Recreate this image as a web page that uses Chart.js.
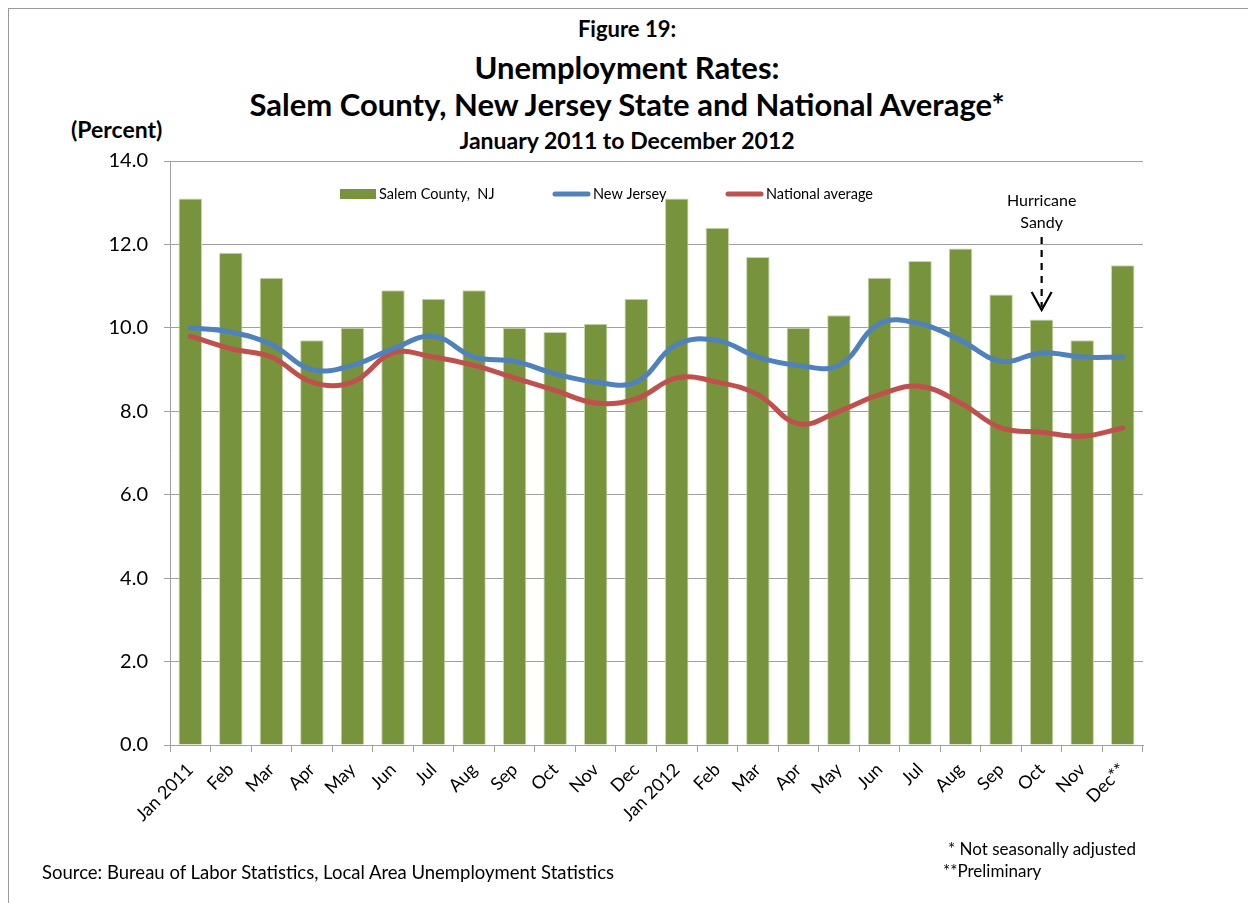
<!DOCTYPE html>
<html lang="en">
<head>
<meta charset="UTF-8">
<title>Unemployment Rates</title>
<script src="https://cdn.jsdelivr.net/npm/chart.js"></script>
<style>
  html, body { margin: 0; padding: 0; background: #fff; overflow: hidden; }
  body { width: 1248px; height: 903px; position: relative; font-family: Lato, "Open Sans", sans-serif; color: #000; }
  .frame { position: absolute; left: 8px; top: 8px; width: 1300px; height: 1000px; border: 1px solid #9a9a9a; }
  .t { position: absolute; left: 0; width: 1254px; text-align: center; font-weight: bold; white-space: nowrap; line-height: 1.2; }
  #chart-box { position: absolute; left: 0; top: 0; width: 1248px; height: 903px; }
  .note { position: absolute; font-size: 16px; white-space: nowrap; line-height: 1.2; }
</style>
</head>
<body>
<div class="frame"></div>
<div class="t" style="top:16px;font-size:22px;">Figure 19:</div>
<div class="t" style="top:49px;font-size:31px;">Unemployment Rates:</div>
<div class="t" style="top:86px;font-size:31px;">Salem County, New Jersey State and National Average*</div>
<div class="t" style="top:127px;font-size:23px;">January 2011 to December 2012</div>
<div class="note" style="left:71px;top:116px;font-size:23px;font-weight:bold;">(Percent)</div>

<div id="chart-box"><canvas id="chart"></canvas></div>

<div class="note" style="left:42px;top:861px;font-size:18.5px;">Source: Bureau of Labor Statistics, Local Area Unemployment Statistics</div>
<div class="note" style="left:948px;top:839px;font-size:17px;">* Not seasonally adjusted</div>
<div class="note" style="left:943px;top:861px;font-size:17px;">**Preliminary</div>

<script>
// data
var months = ['Jan 2011', 'Feb', 'Mar', 'Apr', 'May', 'Jun', 'Jul', 'Aug', 'Sep', 'Oct', 'Nov', 'Dec',
              'Jan 2012', 'Feb', 'Mar', 'Apr', 'May', 'Jun', 'Jul', 'Aug', 'Sep', 'Oct', 'Nov', 'Dec**'];
var salem = [13.1, 11.8, 11.2, 9.7, 10.0, 10.9, 10.7, 10.9, 10.0, 9.9, 10.1, 10.7,
             13.1, 12.4, 11.7, 10.0, 10.3, 11.2, 11.6, 11.9, 10.8, 10.2, 9.7, 11.5];
var newJersey = [10.0, 9.9, 9.6, 9.0, 9.1, 9.5, 9.8, 9.3, 9.2, 8.9, 8.7, 8.7,
                 9.6, 9.7, 9.3, 9.1, 9.1, 10.1, 10.1, 9.7, 9.2, 9.4, 9.3, 9.3];
var national = [9.8, 9.5, 9.3, 8.7, 8.7, 9.4, 9.3, 9.1, 8.8, 8.5, 8.2, 8.3,
                8.8, 8.7, 8.4, 7.7, 8.0, 8.4, 8.6, 8.2, 7.6, 7.5, 7.4, 7.6];
var seriesNames = ['Salem County,  NJ', 'New Jersey', 'National average'];
var sandyIndex = 21;

var GREEN = '#77933C', BLUE = '#4F81BD', RED = '#C0504D';

// legend drawn inside the plot area, plus the Hurricane Sandy arrow
var extras = {
    id: 'extras',
    afterDraw: function (chart) {
        var ctx = chart.ctx, a = chart.chartArea;
        ctx.save();
        ctx.font = '14.5px Lato, "Open Sans", sans-serif';
        ctx.fillStyle = '#000';
        ctx.textBaseline = 'middle';
        var ly = a.top + 33;
        // salem
        ctx.fillStyle = GREEN;
        ctx.fillRect(a.left + 170, ly - 5, 36, 10);
        ctx.fillStyle = '#000';
        ctx.fillText(seriesNames[0], a.left + 209, ly);
        // lines
        var items = [[383, BLUE, seriesNames[1]], [556, RED, seriesNames[2]]];
        items.forEach(function (it) {
            ctx.strokeStyle = it[1];
            ctx.lineWidth = 5;
            ctx.lineCap = 'round';
            ctx.beginPath();
            ctx.moveTo(a.left + it[0] + 2, ly);
            ctx.lineTo(a.left + it[0] + 35, ly);
            ctx.stroke();
            ctx.fillText(it[2], a.left + it[0] + 40, ly);
        });

        // Hurricane Sandy
        var x = chart.scales.x.getPixelForValue(sandyIndex);
        ctx.font = '16px Lato, "Open Sans", sans-serif';
        ctx.textAlign = 'center';
        ctx.fillText('Hurricane', x, a.top + 40);
        ctx.fillText('Sandy', x, a.top + 62);
        ctx.strokeStyle = '#000';
        ctx.lineWidth = 2.2;
        ctx.lineCap = 'butt';
        ctx.setLineDash([7, 6]);
        ctx.beginPath();
        ctx.moveTo(x, a.top + 76);
        ctx.lineTo(x, a.top + 146);
        ctx.stroke();
        ctx.setLineDash([]);
        ctx.beginPath();
        ctx.moveTo(x - 10, a.top + 131);
        ctx.lineTo(x, a.top + 149);
        ctx.lineTo(x + 10, a.top + 131);
        ctx.stroke();
        ctx.restore();
    }
};

var ctx = document.getElementById('chart').getContext('2d');
var chart = new Chart(ctx, {
    data: {
        labels: months,
        datasets: [
            {
                type: 'line', label: seriesNames[1], data: newJersey,
                borderColor: BLUE, borderWidth: 5, tension: 0.4, pointRadius: 0,
                fill: false, order: 1, borderCapStyle: 'round'
            },
            {
                type: 'line', label: seriesNames[2], data: national,
                borderColor: RED, borderWidth: 5, tension: 0.4, pointRadius: 0,
                fill: false, order: 2, borderCapStyle: 'round'
            },
            {
                type: 'bar', label: seriesNames[0], data: salem,
                backgroundColor: GREEN, borderColor: '#c9d7b0', borderWidth: { top: 1, left: 1, right: 1, bottom: 0 },
                categoryPercentage: 1.0, barPercentage: 0.58, order: 3
            }
        ]
    },
    options: {
        responsive: true,
        maintainAspectRatio: false,
        animation: false,
        events: [],
        layout: { padding: { top: 161, left: 60, right: 105, bottom: 0 } },
        plugins: { legend: { display: false }, tooltip: { enabled: false } },
        scales: {
            x: {
                offset: true,
                grid: { display: true, drawOnChartArea: false, offset: true, tickLength: 7, color: '#a0a0a0' },
                border: { color: '#a0a0a0', width: 1 },
                ticks: {
                    maxRotation: 45, minRotation: 45, autoSkip: false, padding: 7,
                    color: '#000', font: { family: 'Lato, "Open Sans", sans-serif', size: 18 }
                },
                afterFit: function (s) { s.height = 158; }
            },
            y: {
                min: 0, max: 14,
                grid: { color: '#a0a0a0', tickLength: 6 },
                border: { color: '#a0a0a0', width: 1 },
                ticks: {
                    stepSize: 2, padding: 16, color: '#000',
                    font: { family: 'Lato, "Open Sans", sans-serif', size: 20 },
                    callback: function (v) { return v.toFixed(1); }
                },
                afterFit: function (s) { s.width = 110; }
            }
        }
    },
    plugins: [extras]
});
</script>
</body>
</html>
